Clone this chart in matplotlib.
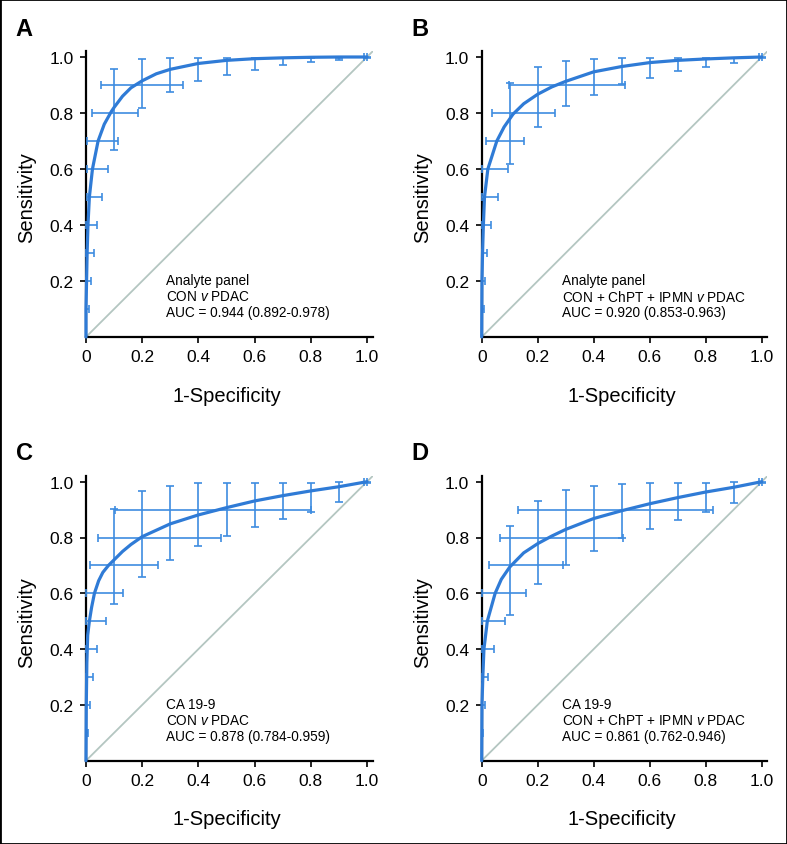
import numpy as np
import matplotlib
matplotlib.use("Agg")
import matplotlib.pyplot as plt
from matplotlib.patches import Rectangle

plt.rcParams['font.family'] = ['Liberation Sans', 'DejaVu Sans']
plt.rcParams['mathtext.fontset'] = 'custom'
plt.rcParams['mathtext.rm'] = 'Liberation Sans'
plt.rcParams['mathtext.it'] = 'Liberation Sans:italic'

# ---------------- data ----------------
panel_letters = ["A", "B", "C", "D"]
panel_text = [
    ["Analyte panel", "CON $\\mathit{v}$ PDAC", "AUC = 0.944 (0.892-0.978)"],
    ["Analyte panel", "CON + ChPT + IPMN $\\mathit{v}$ PDAC", "AUC = 0.920 (0.853-0.963)"],
    ["CA 19-9", "CON $\\mathit{v}$ PDAC", "AUC = 0.878 (0.784-0.959)"],
    ["CA 19-9", "CON + ChPT + IPMN $\\mathit{v}$ PDAC", "AUC = 0.861 (0.762-0.946)"],
]

# smooth ROC curves (1-specificity, sensitivity)
curve_A_fpr = [0, 0.0, 0.002, 0.004, 0.007, 0.012, 0.023, 0.043, 0.065, 0.09, 0.1, 0.13, 0.16, 0.2, 0.25, 0.3, 0.4, 0.5, 0.6, 0.7, 0.8, 0.9, 1.0]
curve_A_tpr = [0, 0.1, 0.2, 0.3, 0.4, 0.5, 0.6, 0.7, 0.76, 0.805, 0.82, 0.86, 0.89, 0.915, 0.94, 0.956, 0.977, 0.988, 0.994, 0.997, 0.999, 1.0, 1.0]

curve_B_fpr = [0, 0.001, 0.003, 0.006, 0.01, 0.022, 0.054, 0.08, 0.112, 0.15, 0.2, 0.25, 0.3, 0.4, 0.5, 0.6, 0.7, 0.8, 0.9, 1.0]
curve_B_tpr = [0, 0.2, 0.3, 0.4, 0.5, 0.6, 0.7, 0.75, 0.796, 0.833, 0.867, 0.893, 0.913, 0.947, 0.966, 0.98, 0.988, 0.993, 0.997, 1.0]

curve_C_fpr = [0, 0.001, 0.003, 0.006, 0.012, 0.02, 0.03, 0.045, 0.06, 0.08, 0.1, 0.13, 0.16, 0.2, 0.3, 0.4, 0.5, 0.6, 0.7, 0.8, 0.9, 1.0]
curve_C_tpr = [0, 0.2, 0.35, 0.45, 0.5, 0.55, 0.6, 0.645, 0.675, 0.7, 0.72, 0.75, 0.775, 0.803, 0.849, 0.881, 0.907, 0.931, 0.95, 0.967, 0.982, 1.0]

curve_D_fpr = [0, 0.001, 0.004, 0.008, 0.02, 0.048, 0.07, 0.1, 0.15, 0.2, 0.25, 0.3, 0.4, 0.5, 0.6, 0.7, 0.8, 0.9, 1.0]
curve_D_tpr = [0, 0.2, 0.3, 0.4, 0.5, 0.6, 0.65, 0.694, 0.745, 0.778, 0.805, 0.829, 0.868, 0.896, 0.921, 0.943, 0.963, 0.98, 1.0]

# CI of sensitivity at fixed 1-specificity values (vertical bars)
sp_points = [0.1, 0.2, 0.3, 0.4, 0.5, 0.6, 0.7, 0.8, 0.9, 1.0]
se_lo_A = [0.667, 0.818, 0.875, 0.914, 0.936, 0.955, 0.971, 0.981, 0.989, 0.995]
se_hi_A = [0.958, 0.992, 0.995, 0.995, 0.995, 0.995, 0.995, 0.995, 0.995, 1.0]
se_lo_B = [0.617, 0.750, 0.825, 0.865, 0.904, 0.926, 0.949, 0.964, 0.980, 0.995]
se_hi_B = [0.908, 0.964, 0.987, 0.992, 0.995, 0.995, 0.995, 0.995, 0.995, 1.0]
se_lo_C = [0.560, 0.658, 0.721, 0.769, 0.805, 0.837, 0.865, 0.893, 0.926, 0.995]
se_hi_C = [0.902, 0.968, 0.986, 0.996, 0.996, 0.996, 0.996, 0.996, 1.0, 1.0]
se_lo_D = [0.523, 0.632, 0.702, 0.753, 0.799, 0.831, 0.863, 0.892, 0.923, 0.995]
se_hi_D = [0.843, 0.932, 0.970, 0.986, 0.993, 0.996, 0.996, 0.996, 1.0, 1.0]

# CI of 1-specificity at fixed sensitivity values (horizontal bars)
se_points = [0.1, 0.2, 0.3, 0.4, 0.5, 0.6, 0.7, 0.8, 0.9, 1.0]
sp_lo_A = [0.0, 0.0, 0.0, 0.0, 0.002, 0.002, 0.005, 0.023, 0.052, 0.99]
sp_hi_A = [0.012, 0.018, 0.028, 0.040, 0.056, 0.078, 0.114, 0.186, 0.346, 1.0]
sp_lo_B = [0.0, 0.0, 0.0, 0.0, 0.002, 0.002, 0.017, 0.038, 0.098, 0.99]
sp_hi_B = [0.007, 0.012, 0.019, 0.033, 0.057, 0.093, 0.151, 0.262, 0.510, 1.0]
sp_lo_C = [0.0, 0.0, 0.0, 0.0, 0.001, 0.001, 0.013, 0.042, 0.103, 0.99]
sp_hi_C = [0.007, 0.014, 0.024, 0.039, 0.072, 0.133, 0.257, 0.480, 0.800, 1.0]
sp_lo_D = [0.0, 0.0, 0.0, 0.0, 0.002, 0.002, 0.025, 0.065, 0.129, 0.99]
sp_hi_D = [0.004, 0.010, 0.024, 0.045, 0.083, 0.157, 0.292, 0.506, 0.827, 1.0]

curves = [(curve_A_fpr, curve_A_tpr), (curve_B_fpr, curve_B_tpr),
          (curve_C_fpr, curve_C_tpr), (curve_D_fpr, curve_D_tpr)]
se_cis = [(se_lo_A, se_hi_A), (se_lo_B, se_hi_B), (se_lo_C, se_hi_C), (se_lo_D, se_hi_D)]
sp_cis = [(sp_lo_A, sp_hi_A), (sp_lo_B, sp_hi_B), (sp_lo_C, sp_hi_C), (sp_lo_D, sp_hi_D)]

# ---------------- style ----------------
curve_color = "#2f7bd6"
bar_color = "#3e8ce0"
diag_color = "#b4c6c1"

W, H = 787, 845
fig = plt.figure(figsize=(W / 100, H / 100), dpi=100)

# axes rectangles in pixels: (left, origin_y_from_top, px_per_unit_x, px_per_unit_y)
rects = [
    (86.0, 338.0, 281.0, 280.0),
    (481.7, 338.0, 280.0, 280.0),
    (86.0, 761.7, 281.0, 279.0),
    (481.7, 761.7, 280.0, 279.0),
]
letter_pos = [(15, 29), (411, 29), (16, 453), (411, 453)]
lim = 1.02

for i in range(4):
    l, oy, sx, sy = rects[i]
    ax = fig.add_axes([l / W, (H - oy) / H, sx * lim / W, sy * lim / H])
    ax.set_xlim(0, lim)
    ax.set_ylim(0, lim)
    for s in ["top", "right"]:
        ax.spines[s].set_visible(False)
    for s in ["left", "bottom"]:
        ax.spines[s].set_linewidth(1.6)
        ax.spines[s].set_color("black")
    ax.set_xticks([0, 0.2, 0.4, 0.6, 0.8, 1.0])
    ax.set_xticklabels(["0", "0.2", "0.4", "0.6", "0.8", "1.0"])
    ax.set_yticks([0.2, 0.4, 0.6, 0.8, 1.0])
    ax.set_yticklabels(["0.2", "0.4", "0.6", "0.8", "1.0"])
    ax.tick_params(direction="out", length=4, width=1.2, labelsize=12.5, pad=5)

    # diagonal
    ax.plot([0, lim], [0, lim], color=diag_color, lw=1.3, zorder=1)

    # CI bars
    lo, hi = np.array(se_cis[i][0]), np.array(se_cis[i][1])
    ax.errorbar(sp_points, lo, yerr=[np.zeros_like(lo), hi - lo], fmt="none",
                ecolor=bar_color, elinewidth=1.2, capsize=3, capthick=1.2, zorder=3,
                clip_on=False)
    lo2, hi2 = np.array(sp_cis[i][0]), np.array(sp_cis[i][1])
    ax.errorbar(lo2, se_points, xerr=[np.zeros_like(lo2), hi2 - lo2], fmt="none",
                ecolor=bar_color, elinewidth=1.2, capsize=3, capthick=1.2, zorder=3,
                clip_on=False)

    # curve
    ax.plot(curves[i][0], curves[i][1], color=curve_color, lw=2.3, zorder=4,
            solid_capstyle="round", solid_joinstyle="round", clip_on=False)

    ax.set_xlabel("1-Specificity", fontsize=14.5)
    ax.set_ylabel("Sensitivity", fontsize=14.5)
    ax.xaxis.set_label_coords(0.49, -0.17)
    ax.yaxis.set_label_coords(-0.175, 0.49)

    txt = panel_text[i]
    for k, line in enumerate(txt):
        ax.text(0.285, 0.204 - k * 0.058, line, fontsize=9.8, ha="left", va="center",
                transform=ax.transData)

    fig.text(letter_pos[i][0] / W, 1 - letter_pos[i][1] / H, panel_letters[i],
             fontsize=17, fontweight="bold", ha="left", va="center")

fig.add_artist(Rectangle((0, 0), 1, 1, transform=fig.transFigure, fill=False,
                         lw=2.0, ec="black"))

fig.savefig("out.png", dpi=100)
